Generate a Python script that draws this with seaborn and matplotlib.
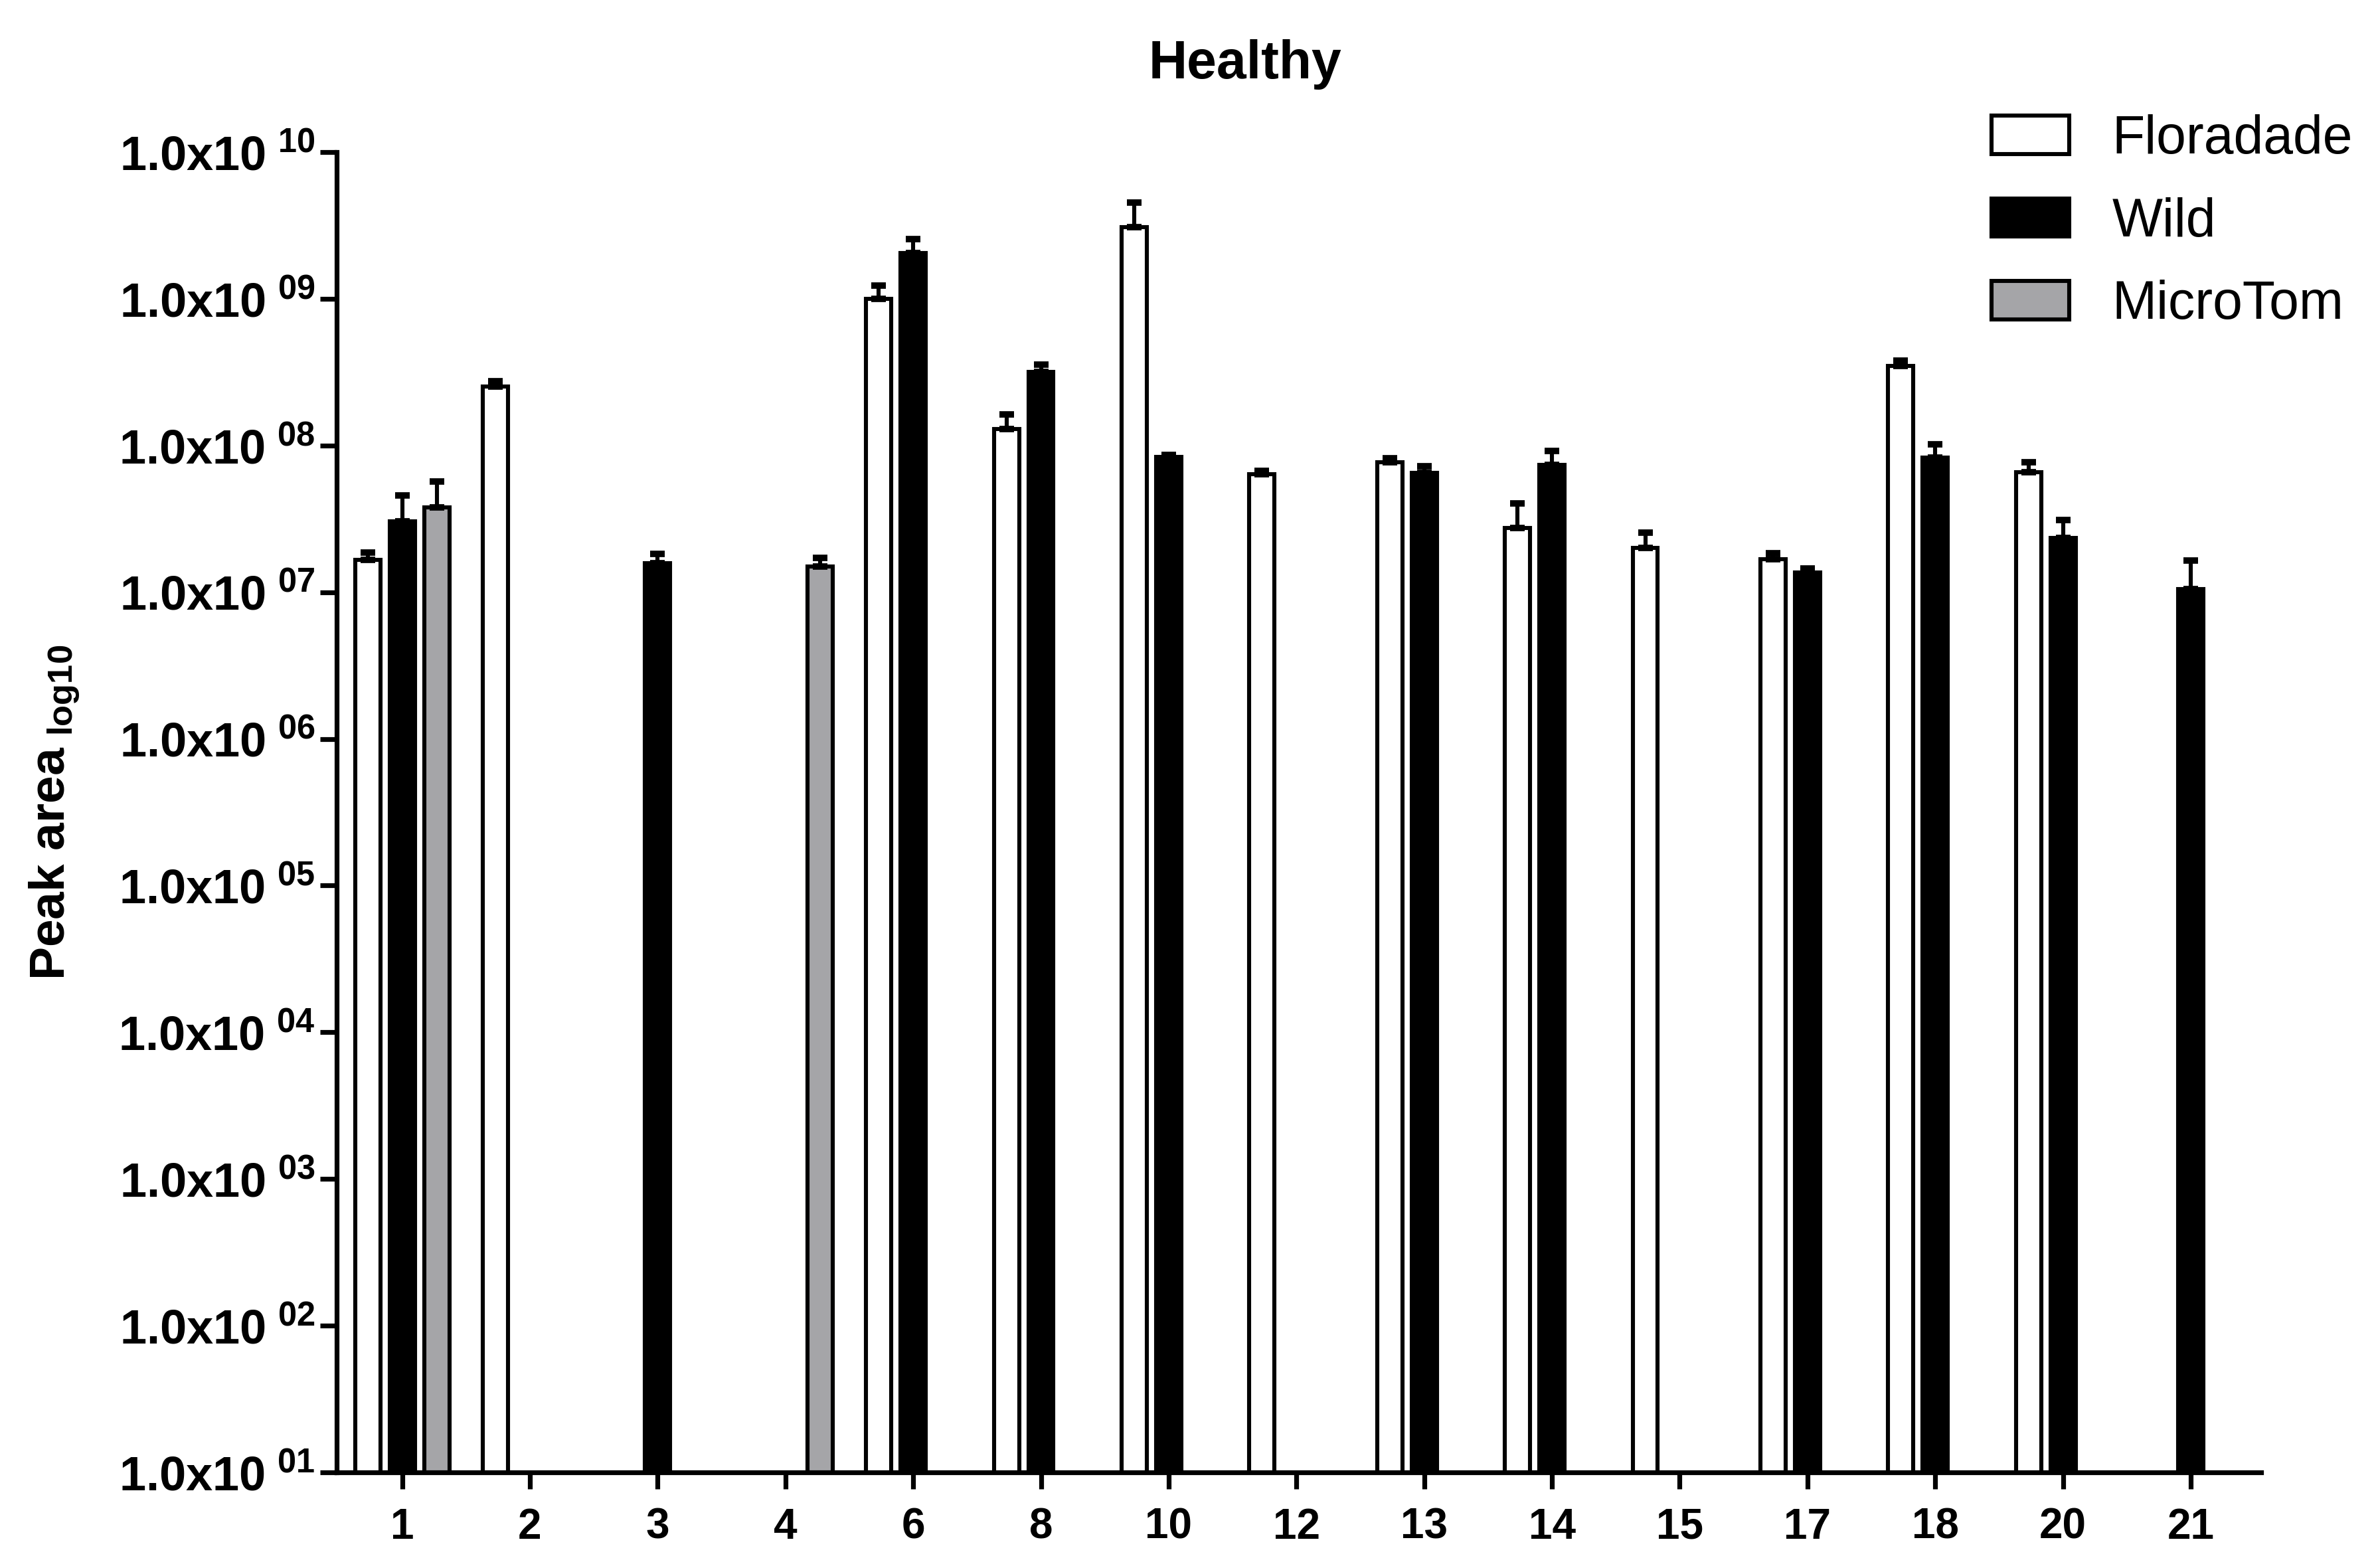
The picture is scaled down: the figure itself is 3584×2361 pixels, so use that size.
import numpy as np
import pandas as pd
import matplotlib
matplotlib.use("Agg")
import matplotlib.pyplot as plt
from matplotlib import font_manager
from matplotlib.ticker import FixedLocator, NullLocator
import seaborn as sns

# compound numbers on the x axis
compounds = ["1", "2", "3", "4", "6", "8", "10", "12", "13", "14", "15", "17", "18", "20", "21"]
cultivars = ["Floradade", "Wild", "MicroTom"]

# mean peak areas (nan = not detected)
floradade = [1.66e7, 2.53e8, np.nan, np.nan, 1.0e9, 1.30e8, 3.08e9, 6.4e7, 7.7e7, 2.74e7, 2.0e7, 1.68e7, 3.48e8, 6.6e7, np.nan]
wild = [3.03e7, np.nan, 1.58e7, np.nan, 2.05e9, 3.16e8, 8.4e7, np.nan, 6.5e7, 7.4e7, np.nan, 1.36e7, 8.3e7, 2.35e7, 1.05e7]
microtom = [3.77e7, np.nan, np.nan, 1.50e7, np.nan, np.nan, np.nan, np.nan, np.nan, np.nan, np.nan, np.nan, np.nan, np.nan, np.nan]

# upper end of the error bars
floradade_top = [1.87e7, 2.74e8, np.nan, np.nan, 1.23e9, 1.63e8, 4.54e9, 6.7e7, 8.2e7, 4.04e7, 2.55e7, 1.85e7, 3.8e8, 7.7e7, np.nan]
wild_top = [4.58e7, np.nan, 1.83e7, np.nan, 2.55e9, 3.56e8, 8.6e7, np.nan, 7.2e7, 9.2e7, np.nan, 1.45e7, 1.02e8, 3.1e7, 1.65e7]
microtom_top = [5.7e7, np.nan, np.nan, 1.71e7, np.nan, np.nan, np.nan, np.nan, np.nan, np.nan, np.nan, np.nan, np.nan, np.nan, np.nan]

colors = {"Floradade": "#ffffff", "Wild": "#000000", "MicroTom": "#a4a5a9"}

rows = []
for vals, tops, name in [(floradade, floradade_top, "Floradade"), (wild, wild_top, "Wild"), (microtom, microtom_top, "MicroTom")]:
    for c, v, t in zip(compounds, vals, tops):
        if not np.isnan(v):
            rows.append({"compound": c, "cultivar": name, "area": v, "top": t})
df = pd.DataFrame(rows)
tops = {(r.compound, r.cultivar): r.top for r in df.itertuples()}

sns.set_style("ticks")
names = {f.name for f in font_manager.fontManager.ttflist}
narrow = "Liberation Sans Narrow" if "Liberation Sans Narrow" in names else "Liberation Sans"
plt.rcParams["font.family"] = ["Liberation Sans", "DejaVu Sans"]
plt.rcParams["mathtext.fontset"] = "custom"
plt.rcParams["mathtext.rm"] = narrow
plt.rcParams["mathtext.bf"] = narrow + ":bold"
for k in ["text.color", "axes.labelcolor", "xtick.color", "ytick.color", "axes.edgecolor"]:
    plt.rcParams[k] = "black"

fig = plt.figure(figsize=(17.92, 11.805), dpi=200)
ax = fig.add_axes([0.1416, 0.061, 0.8084, 0.842])
ax.set_yscale("log")

sns.barplot(data=df, x="compound", y="area", hue="cultivar", order=compounds, hue_order=cultivars,
            palette=colors, errorbar=None, width=0.81, gap=0.27, edgecolor="black", linewidth=2.2, ax=ax)

# upper error bars, placed on the drawn bars
for cont, name in zip(ax.containers, cultivars):
    for bar in cont:
        h = bar.get_height()
        if not np.isfinite(h) or h <= 0:
            continue
        xc = bar.get_x() + bar.get_width() / 2
        t = tops[(compounds[int(round(xc))], name)]
        ax.errorbar([xc], [h], yerr=[[0], [t - h]], fmt="none", ecolor="black",
                    elinewidth=2.2, capsize=4, capthick=3.5, zorder=1)

ax.set_ylim(10, 1e10)
ax.set_xlim(-0.51, 14.55)
decades = list(range(1, 11))
ax.yaxis.set_major_locator(FixedLocator([10.0 ** d for d in decades]))
ax.yaxis.set_minor_locator(NullLocator())
ax.set_yticklabels([r"$\mathbf{1.0x10^{\ %02d}}$" % d for d in decades], fontsize=26)
ax.set_xticks(range(len(compounds)))
ax.set_xticklabels(compounds, fontsize=23, fontweight="bold", family=[narrow, "DejaVu Sans"])

sns.despine(ax=ax)
for s in ["left", "bottom"]:
    ax.spines[s].set_linewidth(2.6)
    ax.spines[s].set_color("black")
ax.tick_params(axis="both", width=2.6, length=9, color="black", labelcolor="black")
ax.tick_params(axis="x", pad=10)
ax.tick_params(axis="y", pad=3)

ax.set_xlabel("")
ax.set_ylabel(r"Peak area$_{\ \mathregular{log10}}$", fontsize=27, fontweight="bold", labelpad=20, color="black")
ax.set_title("Healthy", fontsize=29, fontweight="bold", x=0.472, pad=40, color="black")

sns.move_legend(ax, "upper right", bbox_to_anchor=(0.9885, 0.927), bbox_transform=fig.transFigure,
                frameon=False, title=None, fontsize=29, handlelength=1.45, handleheight=0.72,
                handletextpad=0.8, labelspacing=0.6, borderaxespad=0, borderpad=0, labelcolor="black")

fig.savefig("out.png", dpi=200)
